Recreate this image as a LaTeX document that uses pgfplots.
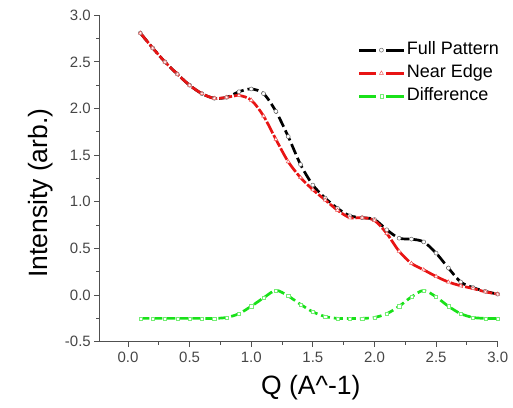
\documentclass[border=0pt]{standalone}
\usepackage{fontspec}
\setmainfont{Liberation Sans}
\usepackage{pgfplots}
\usepackage{pgfplotstable}
\pgfplotsset{compat=1.18}
\definecolor{fgreen}{RGB}{25,225,25}
\definecolor{fred}{RGB}{232,20,20}
\definecolor{axgray}{RGB}{80,80,80}
\definecolor{tickgray}{RGB}{70,70,70}

\pgfplotstableread{
q full
0.1 2.81
0.2 2.65
0.3 2.50
0.4 2.37
0.5 2.25
0.6 2.16
0.7 2.11
0.8 2.12
0.9 2.18
1.0 2.21
1.1 2.16
1.2 1.97
1.3 1.70
1.4 1.40
1.5 1.18
1.6 1.04
1.7 0.93
1.8 0.85
1.9 0.83
2.0 0.81
2.1 0.70
2.2 0.61
2.3 0.60
2.4 0.57
2.5 0.45
2.6 0.29
2.7 0.14
2.8 0.08
2.9 0.04
3.0 0.01
}\fulltab

\pgfplotstableread{
q near
0.1 2.81
0.2 2.65
0.3 2.50
0.4 2.37
0.5 2.25
0.6 2.16
0.7 2.11
0.8 2.12
0.9 2.14
1.0 2.09
1.1 1.92
1.2 1.67
1.3 1.43
1.4 1.26
1.5 1.13
1.6 1.02
1.7 0.91
1.8 0.83
1.9 0.83
2.0 0.80
2.1 0.66
2.2 0.47
2.3 0.34
2.4 0.27
2.5 0.20
2.6 0.14
2.7 0.10
2.8 0.07
2.9 0.035
3.0 0.01
}\neartab

\pgfplotstableread{
q diff
0.1 -0.25
0.2 -0.25
0.3 -0.25
0.4 -0.25
0.5 -0.25
0.6 -0.25
0.7 -0.25
0.8 -0.24
0.9 -0.20
1.0 -0.12
1.1 -0.03
1.2 0.05
1.3 -0.01
1.4 -0.10
1.5 -0.18
1.6 -0.23
1.7 -0.25
1.8 -0.25
1.9 -0.25
2.0 -0.24
2.1 -0.20
2.2 -0.12
2.3 -0.02
2.4 0.05
2.5 -0.02
2.6 -0.12
2.7 -0.20
2.8 -0.24
2.9 -0.25
3.0 -0.25
}\difftab

\begin{document}
\begin{tikzpicture}
\useasboundingbox (-99.3pt,-65.3pt) rectangle (413.7pt,341.7pt);
\begin{axis}[
  scale only axis, width=398.4pt, height=326.4pt,
  at={(0pt,0pt)}, anchor=south west,
  xmin=-0.233, xmax=3.0, ymin=-0.5, ymax=3.0,
  axis lines*=left,
  axis line style={axgray, line width=1.1pt},
  tick align=outside,
  major tick length=5pt, minor tick length=3pt,
  tick style={axgray, line width=1pt},
  minor tick num=1,
  xtick={0,0.5,...,3.0},
  ytick={-0.5,0,...,3.0},
  /pgf/number format/assume math mode=true,
  /pgf/number format/.cd, fixed, fixed zerofill, precision=1, /pgfplots/.cd,
  ticklabel style={font=\fontsize{15}{17}\selectfont, text=tickgray},
  xticklabel style={yshift=-1.5pt},
  xlabel={Q (A\textasciicircum-1)},
  ylabel={Intensity (arb.)},
  label style={font=\fontsize{26.5}{30}\selectfont},
  xlabel style={at={(axis description cs:0.531,-0.142)}, anchor=center},
  ylabel style={at={(axis description cs:-0.146,0.455)}, anchor=center},
  clip=false,
  legend style={at={(axis description cs:0.649,0.926)}, anchor=north west,
    draw=none, fill=none, inner sep=0pt, row sep=2pt,
    font=\fontsize{18}{20}\selectfont,
    nodes={inner sep=2pt, text height=13pt, text depth=4pt}},
  legend cell align=left,
  legend image code/.code={
    \draw[#1, dash pattern=on 17pt off 10pt, mark repeat=2, mark phase=2]
      plot coordinates {(0pt,0pt) (22pt,0pt) (44pt,0pt)};
  },
]
\addplot[black, line width=2.7pt, dash pattern=on 11pt off 4pt, smooth, tension=0.5,
  mark=*, mark size=2pt, mark options={solid, fill=white, draw=black!60, line width=0.5pt}]
  table[x=q, y=full] {\fulltab};
\addlegendentry{Full Pattern}
\addplot[fred, line width=2.7pt, dash pattern=on 13pt off 2pt, smooth, tension=0.5,
  mark=triangle*, mark size=2.2pt, mark options={solid, fill=white, draw=fred!70, line width=0.5pt}]
  table[x=q, y=near] {\neartab};
\addlegendentry{Near Edge}
\addplot[fgreen, line width=2.7pt, dash pattern=on 9pt off 4pt, smooth, tension=0.5,
  mark=square*, mark size=1.6pt, mark options={solid, fill=white, draw=fgreen!60, line width=0.4pt}]
  table[x=q, y=diff] {\difftab};
\addlegendentry{Difference}
\end{axis}
\end{tikzpicture}
\end{document}
